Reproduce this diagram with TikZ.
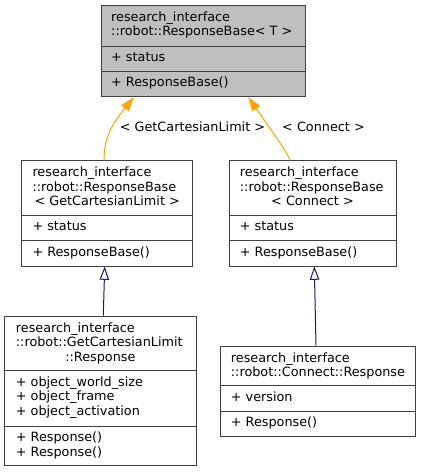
\documentclass[tikz,border=0pt]{standalone}
\usepackage{fontspec}
\setmainfont{DejaVu Sans}
\usetikzlibrary{arrows.meta}
\definecolor{boxc}{HTML}{404040}
\definecolor{topfill}{HTML}{BFBFBF}
\definecolor{orng}{HTML}{FFA500}
\definecolor{navy}{HTML}{191970}
\tikzset{
  cls/.style={draw=boxc, line width=1pt, inner sep=0pt, fill=white},
  clstop/.style={cls, fill=topfill},
  divline/.style={draw=boxc, line width=1pt},
  txt/.style={inner sep=0pt, font=\fontsize{12.8}{14.4}\selectfont, text=black},
  lt/.style={txt, anchor=base west},
  ct/.style={txt, anchor=base},
  tmpl/.style={draw=orng, line width=1pt, -{Triangle[length=14pt,width=9.5pt,fill=orng]}},
  inh/.style={draw=navy, line width=1pt, -{Triangle[open,length=13.3pt,width=9.5pt,fill=white]}},
}
\begin{document}
\begin{tikzpicture}[x=1pt,y=-1pt]
\useasboundingbox (0,0) rectangle (421,472);
% ---- class boxes ----
\node[clstop, minimum width=204pt, minimum height=91.7pt] (base) at (203,50.85) {};
\node[cls, minimum width=171pt, minimum height=105.3pt] (gcl) at (107.2,213.35) {};
\node[cls, minimum width=167pt, minimum height=105.3pt] (con) at (312.5,213.35) {};
\node[cls, minimum width=191.3pt, minimum height=149.7pt] (gclr) at (100.35,390.85) {};
\node[cls, minimum width=194.3pt, minimum height=90.7pt] (conr) at (317.85,391.35) {};
% dividers
\draw[divline] (101,46) -- (305,46);
\draw[divline] (101,71) -- (305,71);
\draw[divline] (21.7,215) -- (192.7,215);
\draw[divline] (21.7,240.3) -- (192.7,240.3);
\draw[divline] (229,215) -- (396,215);
\draw[divline] (229,240.3) -- (396,240.3);
\draw[divline] (4.7,370.7) -- (196,370.7);
\draw[divline] (4.7,426) -- (196,426);
\draw[divline] (220.7,385.7) -- (415,385.7);
\draw[divline] (220.7,411) -- (415,411);
% ---- texts: top ----
\node[lt] (b1) at (111,21) {research\_interface};
\node[lt] (b2) at (111,35.4) {::robot::ResponseBase< T >};
\node[lt] (b3) at (111,61.7) {+ status};
\node[lt] (b4) at (111,86.7) {+ ResponseBase()};
% mid-left
\node[lt] (g1) at (32.3,176.7) {research\_interface};
\node[lt] (g2) at (32.3,191.1) {::robot::ResponseBase};
\node[ct] (g3) at (107.2,205.5) {< GetCartesianLimit >};
\node[lt] (g4) at (32.3,230.7) {+ status};
\node[lt] (g5) at (32.3,256) {+ ResponseBase()};
% mid-right
\node[lt] (c1) at (239.7,176.7) {research\_interface};
\node[lt] (c2) at (239.7,191.1) {::robot::ResponseBase};
\node[ct] (c3) at (312.5,205.5) {< Connect >};
\node[lt] (c4) at (239.7,230.7) {+ status};
\node[lt] (c5) at (239.7,256) {+ ResponseBase()};
% bottom-left
\node[lt] (r1) at (15.7,332.3) {research\_interface};
\node[lt] (r2) at (15.7,346.7) {::robot::GetCartesianLimit};
\node[ct] (r3) at (100.35,361.1) {::Response};
\node[lt] (r4) at (15.7,386.4) {+ object\_world\_size};
\node[lt] (r5) at (15.7,400.8) {+ object\_frame};
\node[lt] (r6) at (15.7,415.2) {+ object\_activation};
\node[lt] (r7) at (15.7,441.7) {+ Response()};
\node[lt] (r8) at (15.7,456.1) {+ Response()};
% bottom-right
\node[lt] (s1) at (230.7,362) {research\_interface};
\node[lt] (s2) at (230.7,376.4) {::robot::Connect::Response};
\node[lt] (s3) at (230.7,401.4) {+ version};
\node[lt] (s4) at (230.7,426.7) {+ Response()};
% ---- edges ----
\draw[tmpl] ([xshift=-3.2pt]gcl.north) .. controls +(0,-25.7) and +(-19,24) .. ([xshift=-69.3pt]base.south);
\draw[tmpl] ([xshift=-22.5pt]con.north) .. controls +(-1,-5.7) and +(13.7,19.7) .. ([xshift=45.3pt]base.south);
\draw[inh] ([xshift=2.95pt]gclr.north) -- ([xshift=-2.5pt]gcl.south);
\draw[inh] ([xshift=-1.85pt]conr.north) -- ([xshift=1.8pt]con.south);
% edge labels
\node[ct] (l1) at (192.5,131) {< GetCartesianLimit >};
\node[ct] (l2) at (323.5,131.5) {< Connect >};
\end{tikzpicture}
\end{document}
